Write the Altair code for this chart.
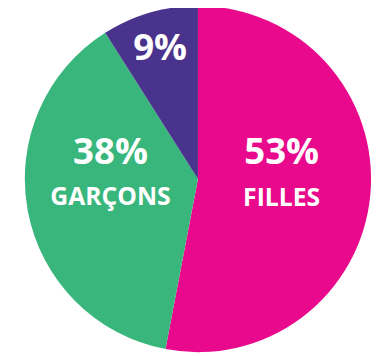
import altair as alt
import pandas as pd

groups = ["FILLES", "GARÇONS", "AUTRES"]
values = [53, 38, 9]
pct_labels = ["53%", "38%", "9%"]
name_labels = ["FILLES", "GARÇONS", ""]
colors = ["#E8098C", "#38B67C", "#4A338D"]
order = [0, 1, 2]

df = pd.DataFrame({"group": groups, "value": values, "pct": pct_labels,
                   "name": name_labels, "ord": order})

arcs = alt.Chart(df).mark_arc(outerRadius=175, stroke=None).encode(
    theta=alt.Theta("value:Q", stack=True, scale=alt.Scale(domain=[0, 100])),
    order=alt.Order("ord:Q"),
    color=alt.Color("group:N", scale=alt.Scale(domain=groups, range=colors), legend=None),
)

font = "Open Sans"

text_base = alt.Chart(df).transform_window(
    cum="sum(value)", sort=[alt.SortField("ord")], frame=[None, 0]
).transform_calculate(mid="datum.cum - datum.value / 2")

def lbl(group, field, radius, dy, size):
    return text_base.transform_filter(alt.datum.group == group).mark_text(
        radius=radius, dy=dy, font=font, fontWeight="bold", fontSize=size,
        color="white", align="center", baseline="middle"
    ).encode(
        theta=alt.Theta("mid:Q", stack=None, scale=alt.Scale(domain=[0, 100])),
        text=f"{field}:N",
    )

layers = [
    arcs,
    lbl("FILLES", "pct", 85, -34, 37),
    lbl("FILLES", "name", 85, 11, 25),
    lbl("GARÇONS", "pct", 90, -43, 37),
    lbl("GARÇONS", "name", 90, 1, 25),
    lbl("AUTRES", "pct", 137, 0, 37),
]

chart = alt.layer(*layers).resolve_scale(theta="shared").properties(
    width=360, height=342,
    autosize=alt.AutoSizeParams(type="none"),
    padding={"left": 12, "top": 0, "right": 0, "bottom": 6},
).configure_view(stroke=None)

chart.save("out.html", embed_options={"renderer": "svg", "actions": False})
